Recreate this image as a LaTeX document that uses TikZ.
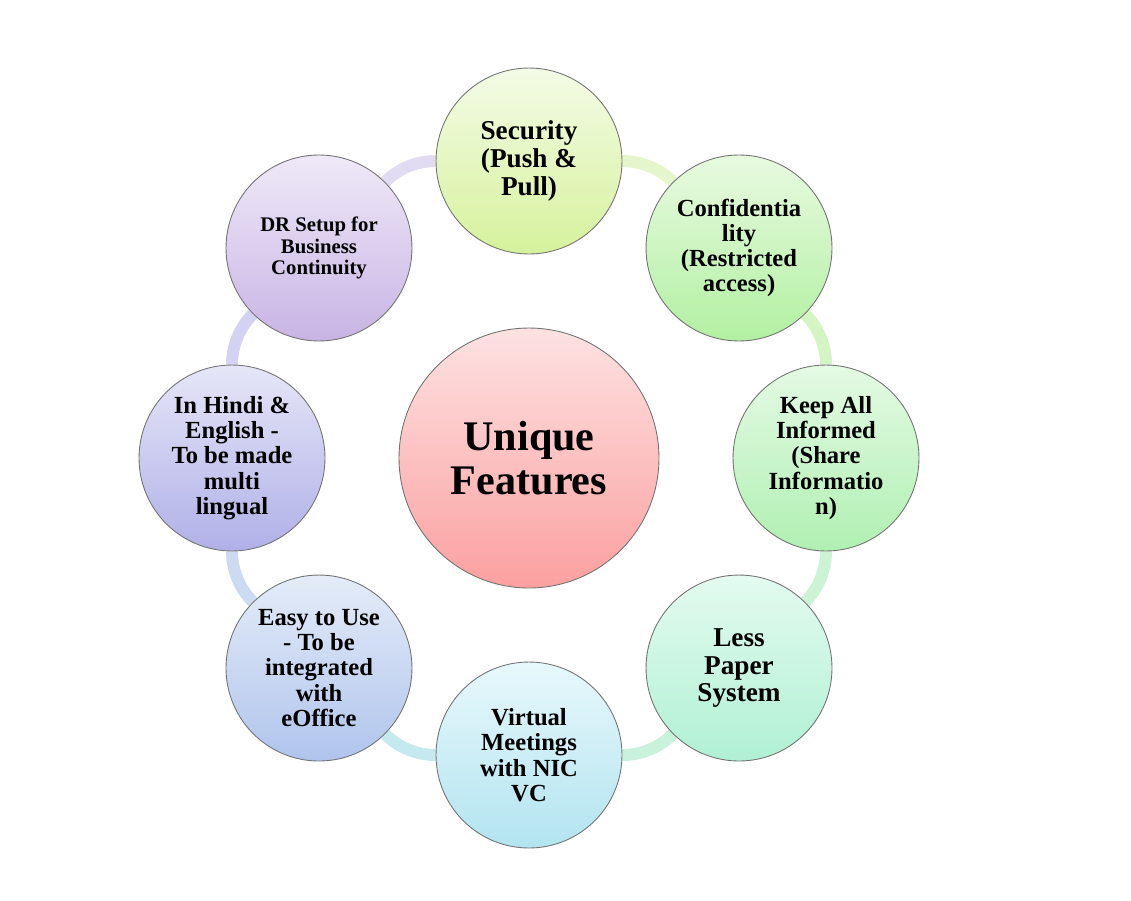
\documentclass[tikz,border=0pt]{standalone}
\usepackage{fontspec}
\setmainfont{Liberation Serif}
\usetikzlibrary{backgrounds}

\definecolor{secT}{HTML}{F4FBE6}\definecolor{secB}{HTML}{D6F29C}
\definecolor{confT}{HTML}{E8FAE0}\definecolor{confB}{HTML}{B2F0A2}
\definecolor{keepT}{HTML}{E4FAE4}\definecolor{keepB}{HTML}{B0F0B2}
\definecolor{papT}{HTML}{E4FBF0}\definecolor{papB}{HTML}{B0F0D4}
\definecolor{vcT}{HTML}{E8F8FC}\definecolor{vcB}{HTML}{B2E4F0}
\definecolor{easyT}{HTML}{E4ECF8}\definecolor{easyB}{HTML}{B0C4EC}
\definecolor{langT}{HTML}{E6E6F8}\definecolor{langB}{HTML}{B0B0E8}
\definecolor{drT}{HTML}{EFE9F8}\definecolor{drB}{HTML}{C8B4E4}
\definecolor{hubT}{HTML}{FDE2E2}\definecolor{hubB}{HTML}{FCA0A0}
\definecolor{rA}{HTML}{E6F6CC}\definecolor{rB}{HTML}{D4F4C4}
\definecolor{rC}{HTML}{CCF4D4}\definecolor{rD}{HTML}{C8F2DC}
\definecolor{rE}{HTML}{C4EAF0}\definecolor{rF}{HTML}{CCDAF2}
\definecolor{rG}{HTML}{D4D2F2}\definecolor{rH}{HTML}{E2DCF2}

\begin{document}
\begin{tikzpicture}[x=0.02cm,y=-0.02cm,
feat/.style={circle,draw=black!55,line width=0.5pt,minimum size=3.72cm,inner sep=0pt,align=center},
hub/.style={circle,draw=black!55,line width=0.5pt,minimum size=5.2cm,inner sep=0pt,align=center,
    top color=hubT,bottom color=hubB,font=\bfseries\fontsize{24}{25}\selectfont},
bigtxt/.style={font=\bfseries\fontsize{15.5}{15.9}\selectfont},
midtxt/.style={font=\bfseries\fontsize{14}{14.4}\selectfont},
smalltxt/.style={font=\bfseries\fontsize{11.8}{12}\selectfont},
ring/.style={line width=0.24cm,bend left=22.5,looseness=0.885}]

\useasboundingbox (0,0) rectangle (1131,900);
\coordinate (ctr) at (529,458);

\node[hub] (uf) at (ctr) {Unique\\Features};

\foreach \ang/\nm/\lbl/\ct/\cb/\sty in {
  -90/sec/{Security\\(Push \&\\Pull)}/secT/secB/bigtxt,
  -45/conf/{Confidentia\\lity\\(Restricted\\access)}/confT/confB/midtxt,
  0/keep/{Keep All\\Informed\\(Share\\Informatio\\n)}/keepT/keepB/midtxt,
  45/paper/{Less\\Paper\\System}/papT/papB/bigtxt,
  90/vc/{Virtual\\Meetings\\with NIC\\VC}/vcT/vcB/midtxt,
  135/easy/{Easy to Use\\- To be\\integrated\\with\\eOffice}/easyT/easyB/midtxt,
  180/lang/{In Hindi \&\\English -\\To be made\\multi\\lingual}/langT/langB/midtxt,
  225/dr/{DR Setup for\\Business\\Continuity}/drT/drB/smalltxt}
\node[feat,\sty,top color=\ct,bottom color=\cb] (\nm) at ([shift={(\ang:297)}]ctr) {\lbl};

% ring behind the circles
\begin{pgfonlayer}{background}
\foreach \a/\b/\c in {sec/conf/rA,conf/keep/rB,keep/paper/rC,paper/vc/rD,
    vc/easy/rE,easy/lang/rF,lang/dr/rG,dr/sec/rH}
\draw[ring,\c] (\a) to (\b);
\end{pgfonlayer}
\end{tikzpicture}
\end{document}
